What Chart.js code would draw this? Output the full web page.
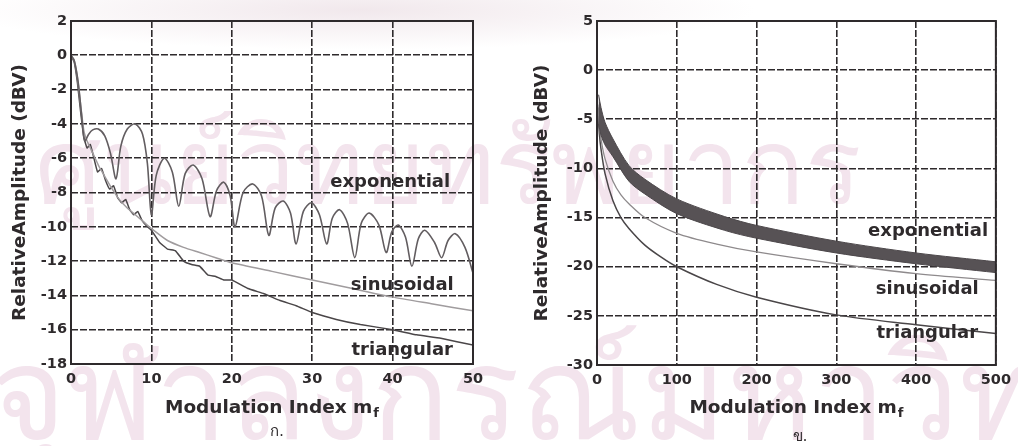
<!DOCTYPE html>
<html>
<head>
<meta charset="utf-8">
<script src="https://cdn.jsdelivr.net/npm/chart.js@4/dist/chart.umd.min.js"></script>
<style>
  body { margin: 0; background: #fff; }
  #wrap { position: relative; width: 1018px; height: 446px; overflow: hidden; }
  .wm { position: absolute; color: #f3e4ed; font-weight: normal; white-space: nowrap; font-family: "Noto Sans", "DejaVu Sans", sans-serif; }
  .band { position: absolute; left: -40px; top: -30px; width: 800px; height: 80px; background: radial-gradient(ellipse at center, #f1e8ec 0%, rgba(255,255,255,0) 70%); }
  .box { position: absolute; top: 0; height: 446px; }
</style>
</head>
<body>
<div id="wrap">
  <div class="band"></div>
  <div class="wm" style="left:35px;top:82px;font-size:105px;">ศูนย์วิทยทรัพยากร</div>
  <div class="wm" style="left:-10px;top:290px;font-size:130px;">จุฬาลงกรณ์มหาวิทยาลัย</div>
  <div class="box" style="left:0;width:505px;"><canvas id="left-chart"></canvas></div>
  <div class="box" style="left:510px;width:508px;"><canvas id="right-chart"></canvas></div>
</div>
<script>
// ---- left chart (mf 0..50) ----
const leftXTicks = [0, 10, 20, 30, 40, 50];
const leftYTicks = [-18, -16, -14, -12, -10, -8, -6, -4, -2, 0, 2];

const expLeftX = [0, 0.4, 0.9, 1.3, 1.7, 2.2, 2.7, 3.4, 4.2, 4.9, 5.6, 6.2, 7.0, 8.0, 8.9, 9.5, 10.0, 10.6, 11.6, 12.6, 13.4,
  14.2, 15.2, 16.3, 17.3, 18.1, 19.0, 19.8, 20.4, 21.4, 22.6, 23.7, 24.6, 25.4, 26.4, 27.3, 28.0, 28.9, 29.9, 30.9, 31.8,
  32.5, 33.4, 34.4, 35.3, 36.1, 37.1, 38.3, 39.2, 39.9, 40.7, 41.6, 42.4, 43.2, 44.0, 45.2, 46.1, 46.9, 47.8, 49.0, 50.0];
const expLeftY = [0, -0.3, -1.6, -3.4, -5.0, -4.6, -4.35, -4.3, -4.7, -5.7, -7.2, -5.3, -4.3, -4.0, -4.6, -6.3, -9.3, -7.0, -6.0, -6.8, -8.8,
  -6.9, -6.4, -7.2, -9.4, -7.9, -7.4, -8.2, -10.0, -8.0, -7.5, -8.2, -10.5, -8.9, -8.5, -9.2, -11.0, -9.1, -8.6, -9.3, -11.0,
  -9.5, -9.0, -9.8, -11.8, -9.8, -9.2, -9.9, -11.5, -10.3, -9.9, -10.6, -12.3, -10.7, -10.2, -10.9, -11.8, -10.8, -10.4, -11.2, -12.7];

const sinLeftX = [0, 0.4, 0.8, 1.2, 1.6, 2.0, 2.5, 3, 3.5, 4, 5, 6, 7, 8, 9, 10, 12, 14, 16, 18, 20, 25, 30, 35, 40, 45, 50];
const sinLeftY = [0, -0.3, -1.3, -2.9, -4.4, -5.0, -5.5, -6.0, -6.5, -6.9, -7.7, -8.4, -8.9, -9.3, -9.7, -10.1, -10.8, -11.2, -11.5, -11.8, -12.1, -12.6, -13.1, -13.6, -14.1, -14.5, -14.9];

const triLeftX = [0, 0.4, 0.8, 1.2, 1.6, 2.0, 2.4, 2.8, 3.3, 3.8, 4.3, 4.8, 5.3, 5.8, 6.3, 6.8, 7.3, 7.8, 8.3, 8.8, 9.3, 10,
  11, 12, 13, 14, 15, 16, 17, 18, 19, 20, 22, 24, 26, 28, 30, 33, 36, 40, 43, 46, 50];
const triLeftY = [0, -0.4, -1.6, -3.3, -4.8, -5.4, -5.2, -5.9, -6.8, -6.6, -7.3, -7.8, -7.6, -8.3, -8.6, -8.4, -9.0, -9.3, -9.1, -9.6, -9.9, -10.2,
  -10.9, -11.3, -11.4, -12.0, -12.2, -12.3, -12.8, -12.9, -13.1, -13.1, -13.6, -13.9, -14.3, -14.6, -15.0, -15.4, -15.7, -16.0, -16.3, -16.5, -16.9];

// ---- right chart (mf 0..500) ----
const rightXTicks = [0, 100, 200, 300, 400, 500];
const rightYTicks = [-30, -25, -20, -15, -10, -5, 0, 5];

const expRightX = [2, 5, 10, 20, 40, 60, 100, 160, 200, 300, 400, 500];
const expRightUpper = [-2.5, -3.8, -5.3, -7.0, -9.7, -11.1, -13.1, -14.9, -15.8, -17.4, -18.6, -19.5];
const expRightLower = [-5.5, -6.6, -7.6, -8.8, -11.3, -12.6, -14.6, -16.3, -17.1, -18.6, -19.7, -20.6];

const sinRightX = [1, 3, 5, 10, 20, 30, 40, 60, 100, 150, 200, 300, 400, 500];
const sinRightY = [-3.5, -5.5, -7.0, -9.0, -11.3, -12.7, -13.6, -15.0, -16.6, -17.7, -18.5, -19.7, -20.7, -21.4];

const triRightX = [1, 3, 5, 10, 20, 30, 40, 60, 80, 100, 150, 200, 300, 400, 500];
const triRightY = [-3.8, -6.5, -8.0, -10.5, -13.3, -15.0, -16.1, -17.8, -19.0, -20.0, -21.8, -23.1, -24.9, -25.9, -26.8];

const seriesNames = ['exponential', 'sinusoidal', 'triangular'];
const leftLabelX = [39.7, 41.2, 41.2];
const leftLabelY = [-7.4, -13.4, -17.2];
const rightLabelX = [415, 414, 414];
const rightLabelY = [-16.4, -22.3, -26.8];

const xTitle = 'Modulation Index m';
const yTitle = 'RelativeAmplitude (dBV)';
const captions = ['ก.', 'ข.'];

const ink = '#2e2a2c';
const pts = (xs, ys) => xs.map((x, i) => ({ x: x, y: ys[i] }));

// frame, in-plot labels, x title with subscript f, caption
const decor = {
  id: 'decor',
  afterDraw(chart) {
    const { ctx, chartArea: a, scales: { x, y } } = chart;
    const o = chart.options.plugins.decor;
    ctx.save();
    ctx.setLineDash([]);
    ctx.strokeStyle = ink;
    ctx.lineWidth = 2;
    ctx.strokeRect(a.left, a.top, a.right - a.left, a.bottom - a.top);

    ctx.fillStyle = ink;
    ctx.textAlign = 'center';
    ctx.textBaseline = 'middle';
    ctx.font = 'bold 18px "DejaVu Sans"';
    seriesNames.forEach((n, i) => {
      ctx.fillText(n, x.getPixelForValue(o.lx[i]), y.getPixelForValue(o.ly[i]));
    });

    // x title
    ctx.font = 'bold 18.5px "DejaVu Sans"';
    const w1 = ctx.measureText(xTitle).width;
    ctx.font = 'bold 13px "DejaVu Sans"';
    const w2 = ctx.measureText('f').width;
    const cx = (a.left + a.right) / 2;
    const sx = cx - (w1 + w2 + 1) / 2;
    ctx.textAlign = 'left';
    ctx.font = 'bold 18.5px "DejaVu Sans"';
    ctx.fillText(xTitle, sx, 408);
    ctx.font = 'bold 13px "DejaVu Sans"';
    ctx.fillText('f', sx + w1 + 1, 414);

    // caption
    ctx.textAlign = 'center';
    ctx.font = '15px "Noto Sans", "DejaVu Sans", sans-serif';
    ctx.fillText(o.caption, o.capX, o.capY);
    ctx.restore();
  }
};

function makeChart(id, cfg) {
  const gridOpts = { color: ink, lineWidth: 1.6, drawTicks: false };
  const tickFont = { family: 'DejaVu Sans', size: 14.5, weight: 'bold' };
  return new Chart(document.getElementById(id), {
    type: 'line',
    data: { datasets: cfg.datasets },
    options: {
      responsive: true,
      maintainAspectRatio: false,
      animation: false,
      layout: { padding: { left: 0, top: 21, right: cfg.padRight, bottom: 0 } },
      elements: { point: { radius: 0 } },
      plugins: {
        legend: { display: false },
        tooltip: { enabled: false },
        decor: { lx: cfg.lx, ly: cfg.ly, caption: cfg.caption, capX: cfg.capX, capY: cfg.capY }
      },
      scales: {
        x: {
          type: 'linear', min: cfg.xTicks[0], max: cfg.xTicks[cfg.xTicks.length - 1],
          afterBuildTicks: s => { s.ticks = cfg.xTicks.map(v => ({ value: v })); },
          afterFit: s => { s.height = cfg.bottomH; },
          ticks: { color: ink, font: tickFont, padding: 7, maxRotation: 0 },
          grid: gridOpts,
          border: { display: false, dash: [7, 2] }
        },
        y: {
          min: cfg.yTicks[0], max: cfg.yTicks[cfg.yTicks.length - 1],
          afterBuildTicks: s => { s.ticks = cfg.yTicks.map(v => ({ value: v })); },
          afterFit: s => { s.width = cfg.leftW; },
          ticks: { color: ink, font: tickFont, padding: 4 },
          grid: gridOpts,
          border: { display: false, dash: [7, 2] },
          title: { display: true, text: yTitle, color: ink, font: { family: 'DejaVu Sans', size: 18.5, weight: 'bold' }, padding: { top: cfg.titlePad, bottom: 0 } }
        }
      }
    },
    plugins: [decor]
  });
}

makeChart('left-chart', {
  xTicks: leftXTicks, yTicks: leftYTicks, padRight: 32, bottomH: 82, leftW: 71, titlePad: 9,
  lx: leftLabelX, ly: leftLabelY, caption: captions[0], capX: 277, capY: 432,
  datasets: [
    { data: pts(expLeftX, expLeftY), borderColor: '#625d60', borderWidth: 1.6, tension: 0.3 },
    { data: pts(sinLeftX, sinLeftY), borderColor: '#a09c9e', borderWidth: 1.5, tension: 0.2 },
    { data: pts(triLeftX, triLeftY), borderColor: '#4a4648', borderWidth: 1.5, tension: 0.1 }
  ]
});

makeChart('right-chart', {
  xTicks: rightXTicks, yTicks: rightYTicks, padRight: 18, bottomH: 81, leftW: 87, titlePad: 21,
  lx: rightLabelX, ly: rightLabelY, caption: captions[1], capX: 290, capY: 437,
  datasets: [
    { data: pts(expRightX, expRightUpper), borderColor: '#4d484b', borderWidth: 1, tension: 0.3 },
    { data: pts(expRightX, expRightLower), borderColor: '#4d484b', borderWidth: 1, tension: 0.3, fill: '-1', backgroundColor: '#575255' },
    { data: pts(sinRightX, sinRightY), borderColor: '#8e8a8c', borderWidth: 1.3, tension: 0.3 },
    { data: pts(triRightX, triRightY), borderColor: '#4a4648', borderWidth: 1.5, tension: 0.3 }
  ]
});
</script>
</body>
</html>
